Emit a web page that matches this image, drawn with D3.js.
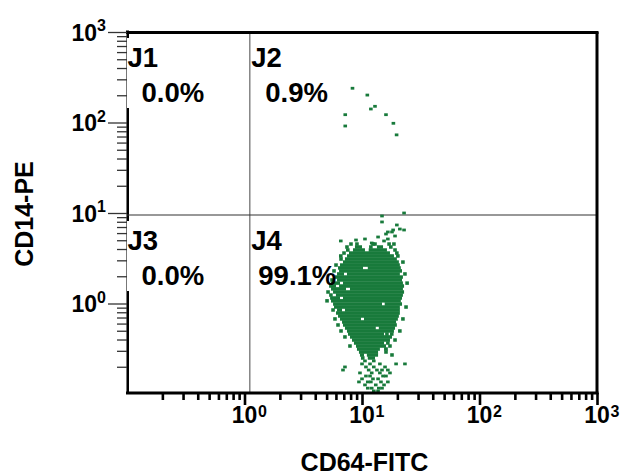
<!DOCTYPE html>
<html><head><meta charset="utf-8">
<script src="https://cdn.jsdelivr.net/npm/d3@7"></script>
<style>
body{margin:0;background:#fff}
text{font-family:"Liberation Sans",Arial,Helvetica,sans-serif;font-weight:bold;fill:#000}
</style>
</head><body>
<svg id="chart" width="621" height="474"></svg>
<script>
// ---------- data ----------
const xDomain = [0.1, 1000];
const yDomain = [0.1, 1000];
const xMajorTicks = [1, 10, 100, 1000];
const xMajorExps = ["0", "1", "2", "3"];
const yMajorTicks = [1, 10, 100, 1000];
const yMajorExps = ["0", "1", "2", "3"];
const gateX = 1.11;
const gateY = 9.5;
const quadNames = ["J1", "J2", "J3", "J4"];
const quadPercents = ["0.0%", "0.9%", "0.0%", "99.1%"];
const xTitle = "CD64-FITC";
const yTitle = "CD14-PE";

// dense part of the population, one row of events per entry:
// [CD14 value, [[CD64 from, CD64 to] or [single CD64], ...]]
const coreRows = [
  [4.54, [[8.06], [9.06], [12.4], [12.9], [17.0], [18.7]]],
  [4.21, [[7.45], [8.71, 10.0], [11.9], [13.4, 15.1], [17.6]]],
  [3.90, [[7.31, 7.75], [8.38, 10.6], [11.4, 16.3], [19.1]]],
  [3.61, [[7.03], [7.75, 17.3], [19.8]]],
  [3.35, [[6.6], [7.45, 18.7], [20.2]]],
  [3.10, [[6.63], [7.16, 19.8]]],
  [2.87, [[6.89, 20.6], [22.3]]],
  [2.66, [[6.01], [6.5, 21.0]]],
  [2.47, [[6.25, 10.2], [11.2, 21.4]]],
  [2.29, [[5.78], [6.38, 21.9]]],
  [2.12, [[6.13, 7.03], [7.45, 21.0], [23.2]]],
  [1.96, [[5.89, 22.3]]],
  [1.82, [[5.56], [6.13, 21.9]]],
  [1.68, [[5.45, 6.5], [6.89, 22.3], [24.2]]],
  [1.56, [[5.25, 6.01], [6.38, 22.8]]],
  [1.45, [[5.45, 7.31], [7.9, 22.3]]],
  [1.34, [[5.14], [5.67, 22.8]]],
  [1.24, [[5.25, 5.6], [6.0, 22.3]]],
  [1.15, [[5.35, 6.5], [6.89, 21.9]]],
  [1.07, [[5.04], [5.45, 21.4]]],
  [0.987, [[5.67, 14.8], [15.6, 21.9]]],
  [0.914, [[5.78, 21.0], [23.7]]],
  [0.848, [[5.67], [6.13, 6.76], [7.16, 21.0]]],
  [0.785, [[6.01, 21.0]]],
  [0.728, [[6.25, 20.6]]],
  [0.675, [[5.89], [6.5, 9.8], [10.4, 20.2], [22.3]]],
  [0.625, [[6.76, 19.5]]],
  [0.579, [[6.25], [6.89, 19.8]]],
  [0.536, [[7.16, 13.1], [13.9, 19.1]]],
  [0.497, [[6.63], [7.45, 18.7], [21.0]]],
  [0.460, [[7.6, 15.4], [16.3], [17.3, 18.4]]],
  [0.427, [[7.16], [7.9, 18.0]]],
  [0.395, [[8.22, 17.3], [19.1]]],
  [0.366, [[8.54, 15.4], [16.6]]],
  [0.339, [[7.9], [8.89, 16.0], [17.3]]],
  [0.314, [[9.06, 14.2], [15.4, 16.6]]],
  [0.291, [[9.42, 13.7], [16.0]]],
  [0.270, [[9.61, 10.4], [11.0, 13.7], [18.0]]],
  [0.250, [[9.8, 10.2], [11.2, 12.9]]]
];

// single scattered events: CD64 values and matching CD14 values
const eventsX = [
  8.3, 11.1, 11.9, 12.9, 16.0, 18.5, 19.7, 7.2, 7.2,
  22.8, 14.8, 14.8, 19.8, 18.4, 22.8, 21.0, 16.0, 16.6, 18.0, 19.1, 13.7, 10.6, 8.89, 16.6, 12.1,
  6.6, 15.4,
  10.6, 12.6, 10.0, 11.7, 14.2, 19.5, 23.2, 7.16, 10.8, 12.6, 15.7,
  6.89, 11.4, 13.4, 14.8, 16.6, 9.61, 12.1, 14.2, 17.3, 10.8, 11.7, 15.1, 16.0,
  10.0, 12.4, 13.7, 9.42, 11.2, 11.9, 14.5, 16.6, 10.6, 13.1, 15.4,
  11.2, 12.1, 13.9, 14.8, 12.6, 13.7];
const eventsY = [
  239, 201, 141, 151, 122, 98, 73, 122, 91.5,
  10.0, 9.27, 7.96, 7.37, 6.49, 6.49, 6.65, 5.86, 6.17, 6.17, 5.57, 5.43, 5.16, 5.03, 5.16, 4.66,
  4.91, 4.91,
  0.232, 0.232, 0.215, 0.215, 0.215, 0.215, 0.215, 0.199, 0.199, 0.199, 0.199,
  0.184, 0.184, 0.184, 0.184, 0.184, 0.171, 0.171, 0.171, 0.171, 0.158, 0.158, 0.158, 0.158,
  0.147, 0.147, 0.147, 0.136, 0.136, 0.136, 0.136, 0.136, 0.126, 0.126, 0.126,
  0.116, 0.116, 0.116, 0.116, 0.108, 0.108];

// ---------- drawing ----------
const svg = d3.select("#chart");
const pLeft = 127, pRight = 597, pTop = 32, pBottom = 394;
const x = d3.scaleLog().domain(xDomain).range([pLeft, pRight]);
const y = d3.scaleLog().domain(yDomain).range([pBottom, pTop]);
const green = "#187a3b";
const rowH = 3.5, dotW = 3.6, dotH = 2.8;

function minors(domain) {
  const out = [];
  d3.range(Math.log10(domain[0]), Math.log10(domain[1])).forEach(k => {
    for (let m = 2; m <= 9; m++) out.push(m * Math.pow(10, k));
  });
  return out;
}

// thick left axis
svg.append("line").attr("x1", pLeft + 0.5).attr("x2", pLeft + 0.5)
  .attr("y1", pTop - 1.5).attr("y2", pBottom).attr("stroke", "#000").attr("stroke-width", 3);

// white boxes behind left quadrant labels (hide the thick axis there)
const gy = y(gateY);
[pTop, gy].forEach(t => {
  svg.append("rect").attr("x", pLeft - 2).attr("y", t + 6).attr("width", 6).attr("height", 70)
    .attr("fill", "#fff");
});
// thin axis line
svg.append("line").attr("x1", pLeft - 0.5).attr("x2", pLeft - 0.5)
  .attr("y1", pTop).attr("y2", pBottom).attr("stroke", "#777").attr("stroke-width", 1);

// gates
svg.append("line").attr("x1", x(gateX)).attr("x2", x(gateX)).attr("y1", pTop).attr("y2", pBottom)
  .attr("stroke", "#666").attr("stroke-width", 1.2);
svg.append("line").attr("x1", pLeft).attr("x2", pRight).attr("y1", gy).attr("y2", gy)
  .attr("stroke", "#333").attr("stroke-width", 1.2);

// events
const ev = svg.append("g").attr("fill", green);
coreRows.forEach(r => {
  r[1].forEach(s => {
    const x0 = s.length === 1 ? x(s[0]) - dotW / 2 : x(s[0]);
    const w = s.length === 1 ? dotW : Math.max(dotW, x(s[1]) - x(s[0]));
    ev.append("rect").attr("x", x0).attr("y", y(r[0]) - rowH / 2)
      .attr("width", w).attr("height", rowH);
  });
});
ev.selectAll("rect.ev").data(eventsX.map((v, i) => [v, eventsY[i]])).join("rect")
  .attr("class", "ev").attr("x", d => x(d[0]) - dotW / 2).attr("y", d => y(d[1]) - dotH / 2)
  .attr("width", dotW).attr("height", dotH);

// frame: top, right, bottom
svg.append("line").attr("x1", pLeft - 1).attr("x2", pRight + 1.5).attr("y1", pTop + 0.5).attr("y2", pTop + 0.5)
  .attr("stroke", "#000").attr("stroke-width", 3);
svg.append("line").attr("x1", pRight).attr("x2", pRight).attr("y1", pTop).attr("y2", pBottom)
  .attr("stroke", "#000").attr("stroke-width", 3);
svg.append("line").attr("x1", pLeft - 1).attr("x2", pRight + 1.5).attr("y1", pBottom - 1).attr("y2", pBottom - 1)
  .attr("stroke", "#000").attr("stroke-width", 3);

// x axis ticks
const gxMin = svg.append("g").attr("transform", `translate(0,${pBottom - 1})`)
  .call(d3.axisBottom(x).tickValues(minors(xDomain)).tickSize(7).tickFormat(""));
const gxMaj = svg.append("g").attr("transform", `translate(0,${pBottom - 1})`)
  .call(d3.axisBottom(x).tickValues(xMajorTicks).tickSize(12).tickFormat(""));
[gxMin, gxMaj].forEach(g => {
  g.select(".domain").remove();
  g.selectAll(".tick line").attr("stroke", "#000").attr("stroke-width", 2.6);
});
xMajorTicks.forEach((v, i) => {
  svg.append("text").attr("x", x(v)).attr("y", 423).attr("text-anchor", "middle")
    .style("font-size", "23px").text("10");
  svg.append("text").attr("x", x(v) + 13.5).attr("y", 417)
    .style("font-size", "16px").text(xMajorExps[i]);
});

// y axis ticks
const gyMin = svg.append("g").attr("transform", `translate(${pLeft},0)`)
  .call(d3.axisLeft(y).tickValues(minors(yDomain)).tickSize(10).tickFormat(""));
const gyMaj = svg.append("g").attr("transform", `translate(${pLeft},0)`)
  .call(d3.axisLeft(y).tickValues(yMajorTicks).tickSize(19).tickFormat(""));
[gyMin, gyMaj].forEach(g => {
  g.select(".domain").remove();
  g.selectAll(".tick line").attr("stroke", "#333").attr("stroke-width", 1.3);
});
yMajorTicks.forEach((v, i) => {
  svg.append("text").attr("x", 97).attr("y", y(v) + 8.5).attr("text-anchor", "end")
    .style("font-size", "23px").text("10");
  svg.append("text").attr("x", 97).attr("y", y(v) - 1)
    .style("font-size", "16px").text(yMajorExps[i]);
});

// quadrant labels
const gx = x(gateX);
const quadPos = [[pLeft + 0.5, pTop], [gx + 1.5, pTop], [pLeft + 0.5, gy], [gx + 1.5, gy]];
const pctOffset = [14, 14, 14, 7];
quadPos.forEach((p, i) => {
  svg.append("text").attr("x", p[0]).attr("y", p[1] + 34.8).style("font-size", "27.5px").text(quadNames[i]);
  svg.append("text").attr("x", p[0] + pctOffset[i]).attr("y", p[1] + 69.8).style("font-size", "27.5px").text(quadPercents[i]);
});

// axis titles
svg.append("text").attr("x", 364.5).attr("y", 470.5).attr("text-anchor", "middle")
  .style("font-size", "25px").text(xTitle);
svg.append("text").attr("transform", `translate(33,214) rotate(-90)`).attr("text-anchor", "middle")
  .style("font-size", "25px").text(yTitle);
</script>
</body></html>
